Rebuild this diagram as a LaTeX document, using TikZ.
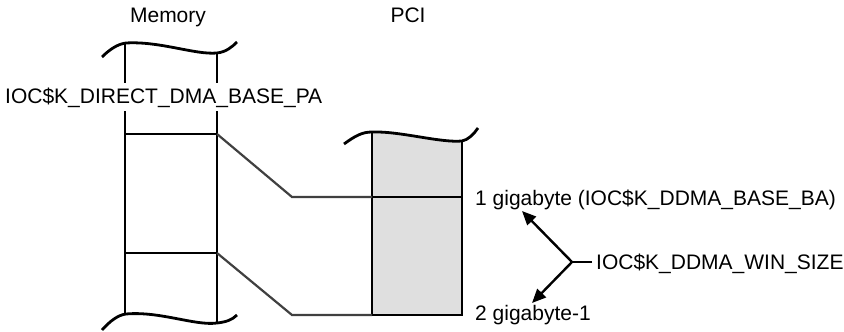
\documentclass[tikz,border=0pt]{standalone}
\usepackage{fontspec}
\setmainfont{Liberation Sans}
\usetikzlibrary{arrows.meta}
\begin{document}
\begin{tikzpicture}[x=1pt,y=-1pt,
  lbl/.style={font=\fontsize{21}{24}\selectfont, inner sep=0pt},
  frame/.style={line width=2.6pt, black},
  wave/.style={line width=2.8pt, black},
  conn/.style={line width=2.2pt, black!75},
  arr/.style={line width=2.4pt, -{Triangle[length=14pt,width=12pt]}}]
\useasboundingbox (0,0) rectangle (844,332);
% PCI fill
\fill[gray!25] (372,315) -- (372,132) .. controls (400,131) and (440,143) .. (462,141) -- (462,315) -- cycle;
% memory column
\draw[frame] (125,44) -- (125,314);
\draw[frame] (217,53) -- (217,323);
\draw[frame] (125,134) -- (217,134);
\draw[frame] (125,253) -- (217,253);
\draw[wave] (102,57) .. controls (110,49) and (118,44) .. (126,43) .. controls (160,41) and (195,55) .. (217,53) .. controls (226,52) and (232,47) .. (237,42);
\draw[wave] (102,330) .. controls (110,321) and (118,315) .. (126,314) .. controls (160,311) and (195,326) .. (217,323) .. controls (226,322) and (232,320) .. (237,315);
% PCI column
\draw[frame] (372,132) -- (372,315) -- (462,315) -- (462,141);
\draw[frame] (372,197) -- (462,197);
\draw[wave] (344,144) .. controls (355,136) and (362,132) .. (372,132) .. controls (400,131) and (440,143) .. (462,141) .. controls (468,140) and (474,134) .. (478,128);
% connectors
\coordinate (m1) at (217,134);
\coordinate (m2) at (217,253);
\coordinate (k1) at (292,197);
\coordinate (k2) at (292,315);
\coordinate (p1) at (372,197);
\coordinate (p2) at (372,315);
\draw[conn] (m1) -- (k1) -- (p1);
\draw[conn] (m2) -- (k2) -- (p2);
% labels
\node[lbl, anchor=base] (memory) at (168,22) {Memory};
\node[lbl, anchor=base] (pci) at (408,22) {PCI};
\node[lbl, anchor=base west, fill=white, inner ysep=4pt, inner xsep=1pt] (base) at (4,103) {IOC\$K\_DIRECT\_DMA\_BASE\_PA};
\node[lbl, anchor=base west] (gig1) at (475,205) {1 gigabyte (IOC\$K\_DDMA\_BASE\_BA)};
\node[lbl, anchor=base west] (gig2) at (475,320) {2 gigabyte-1};
\node[lbl, anchor=base west] (win) at (596,269) {IOC\$K\_DDMA\_WIN\_SIZE};
% arrows
\coordinate (j) at (572,262);
\coordinate (t1) at (522,211);
\coordinate (t2) at (532,303);
\draw[line width=2.4pt] (win.west |- j) ++(-4,0) -- (j);
\draw[arr] (j) -- (t1);
\draw[arr] (j) -- (t2);
\end{tikzpicture}
\end{document}
